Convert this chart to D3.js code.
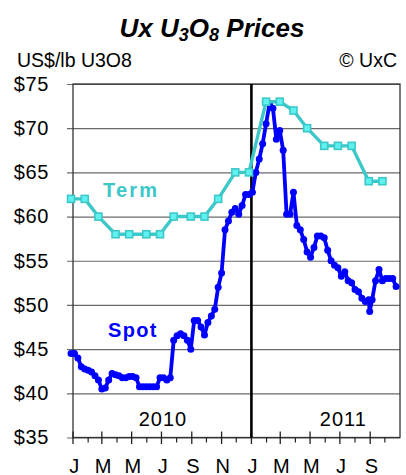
<!DOCTYPE html>
<html>
<head>
<meta charset="utf-8">
<title>Ux U3O8 Prices</title>
<script src="https://cdn.jsdelivr.net/npm/d3@7"></script>
<style>
  body { margin: 0; background: #fff; }
  svg { display: block; font-family: "Liberation Sans", Arial, sans-serif; }
</style>
</head>
<body>
<script>
// Weekly spot price (US$/lb U3O8)
var spotDates = ["2009-12-28","2010-01-04","2010-01-11","2010-01-18","2010-01-25","2010-02-01","2010-02-08","2010-02-15","2010-02-22",
  "2010-03-01","2010-03-08","2010-03-15","2010-03-22","2010-03-29","2010-04-05","2010-04-12","2010-04-19","2010-04-26",
  "2010-05-03","2010-05-10","2010-05-17","2010-05-24","2010-05-31","2010-06-07","2010-06-14","2010-06-21","2010-06-28",
  "2010-07-05","2010-07-12","2010-07-19","2010-07-26","2010-08-02","2010-08-09","2010-08-16","2010-08-23","2010-08-30",
  "2010-09-06","2010-09-13","2010-09-20","2010-09-27","2010-10-04","2010-10-11","2010-10-18","2010-10-25",
  "2010-11-01","2010-11-08","2010-11-15","2010-11-22","2010-11-29","2010-12-06","2010-12-13","2010-12-20","2010-12-27",
  "2011-01-03","2011-01-10","2011-01-17","2011-01-24","2011-01-31","2011-02-07","2011-02-14","2011-02-21","2011-02-28",
  "2011-03-07","2011-03-14","2011-03-21","2011-03-28","2011-04-04","2011-04-11","2011-04-18","2011-04-25",
  "2011-05-02","2011-05-09","2011-05-16","2011-05-23","2011-05-30","2011-06-06","2011-06-13","2011-06-20","2011-06-27",
  "2011-07-04","2011-07-11","2011-07-18","2011-07-25","2011-08-01","2011-08-08","2011-08-15","2011-08-22","2011-08-29","2011-08-31",
  "2011-09-05","2011-09-12","2011-09-19","2011-09-26","2011-10-03","2011-10-10","2011-10-17","2011-10-24"];
var spotValues = [44.5, 44.5, 44.0, 43.0, 42.75, 42.6, 42.4, 42.0, 41.5,
  40.5, 40.6, 41.5, 42.25, 42.1, 42.0, 41.75, 41.75, 41.9,
  41.9, 41.75, 40.75, 40.75, 40.75, 40.75, 40.75, 40.75, 41.75,
  41.75, 41.5, 41.75, 46.0, 46.5, 46.75, 46.5, 46.0, 45.0,
  48.25, 48.25, 47.5, 46.6, 48.0, 48.75, 49.5, 52.0,
  53.6, 58.5, 59.5, 60.5, 60.9, 60.25, 61.25, 62.5, 62.5,
  62.75, 65.0, 66.5, 68.25, 70.5, 72.75, 72.25, 68.75, 69.75,
  67.5, 60.25, 60.25, 62.75, 59.0, 58.5, 57.4, 56.0,
  55.4, 56.5, 57.8, 57.8, 57.6, 56.2, 55.0, 54.5, 54.2,
  53.25, 53.75, 52.75, 52.5, 51.75, 51.5, 50.75, 50.4, 50.6, 49.25,
  50.6, 52.75, 54.0, 52.75, 53.0, 53.0, 53.0, 52.1];

// Month-end long-term price
var termDates = ["2009-12-28","2010-01-25","2010-02-22","2010-03-29","2010-04-26","2010-05-31","2010-06-28","2010-07-26",
  "2010-08-30","2010-09-27","2010-10-25","2010-11-29","2010-12-27","2011-01-31","2011-02-28","2011-03-28",
  "2011-04-25","2011-05-30","2011-06-27","2011-07-25","2011-08-29","2011-09-26"];
var termValues = [62, 62, 60, 58, 58, 58, 58, 60, 60, 60, 62, 65, 65, 73, 73, 72, 70, 68, 68, 68, 64, 64];

var yTicks = [35, 40, 45, 50, 55, 60, 65, 70, 75];
var monthTickDates = ["2010-01-01","2010-03-01","2010-05-01","2010-07-01","2010-09-01","2010-11-01",
  "2011-01-01","2011-03-01","2011-05-01","2011-07-01","2011-09-01"];
var monthLabels = ["J", "M", "M", "J", "S", "N", "J", "M", "M", "J", "S"];
var yearLabels = ["2010", "2011"];
var yearLabelDates = ["2010-07-04", "2011-07-08"];

var w = 406, h = 475;
var plotLeft = 73, plotRight = 400, plotTop = 84, plotBottom = 437.5;
var parse = d3.timeParse("%Y-%m-%d");

var spot = spotDates.map(function(d, i){ return { date: parse(d), value: spotValues[i] }; });
var term = termDates.map(function(d, i){ return { date: parse(d), value: termValues[i] }; });

var xScale = d3.scaleTime()
    .domain([parse("2010-01-01"), parse("2011-11-01")])
    .range([plotLeft, plotRight]);
var yScale = d3.scaleLinear()
    .domain([35, 75])
    .range([plotBottom, plotTop]);

var svg = d3.select("body").append("svg")
    .attr("width", w)
    .attr("height", h);

// Title
var title = svg.append("text")
    .attr("x", 212).attr("y", 36.5)
    .attr("text-anchor", "middle")
    .attr("font-size", 26).attr("font-weight", "bold").attr("font-style", "italic")
    .attr("fill", "#000");
title.append("tspan").text("Ux U");
title.append("tspan").attr("dy", 4).attr("font-size", 18).text("3");
title.append("tspan").attr("dy", -4).text("O");
title.append("tspan").attr("dy", 4).attr("font-size", 18).text("8");
title.append("tspan").attr("dy", -4).text(" Prices");

svg.append("text")
    .attr("x", 17).attr("y", 66.5)
    .attr("font-size", 19.5)
    .text("US$/lb U3O8");
svg.append("text")
    .attr("x", 397).attr("y", 66.5)
    .attr("text-anchor", "end")
    .attr("font-size", 19.5)
    .text("© UxC");

// Gridlines + y axis labels
var yAxis = d3.axisLeft(yScale)
    .tickValues(yTicks)
    .tickSizeInner(-(plotRight - plotLeft + 6))
    .tickSizeOuter(0)
    .tickPadding(18)
    .tickFormat(function(d){ return "$" + d; });

var gy = svg.append("g")
    .attr("transform", "translate(" + (plotLeft - 6) + ",0)")
    .call(yAxis);
gy.select(".domain").remove();
gy.selectAll(".tick line").attr("stroke", "#6a6a6a").attr("stroke-width", 1.2);
gy.selectAll(".tick text")
    .attr("font-size", 20).attr("letter-spacing", 0.6)
    .attr("fill", "#000")
    .attr("font-family", "Liberation Sans, Arial, sans-serif");

// Frame
svg.append("rect")
    .attr("x", plotLeft).attr("y", plotTop)
    .attr("width", plotRight - plotLeft).attr("height", plotBottom - plotTop)
    .attr("fill", "none").attr("stroke", "#333").attr("stroke-width", 1.3);

// X axis ticks (major every 2 months crossing axis, minor monthly below)
var minorTicks = d3.timeMonth.range(parse("2010-02-01"), parse("2011-11-01"), 2);
svg.append("g").selectAll("line.minor")
    .data(minorTicks).enter().append("line")
    .attr("x1", function(d){ return xScale(d); })
    .attr("x2", function(d){ return xScale(d); })
    .attr("y1", plotBottom).attr("y2", plotBottom + 5)
    .attr("stroke", "#222").attr("stroke-width", 1.2);

var majorTicks = monthTickDates.map(parse);
svg.append("g").selectAll("line.major")
    .data(majorTicks).enter().append("line")
    .attr("x1", function(d){ return xScale(d); })
    .attr("x2", function(d){ return xScale(d); })
    .attr("y1", plotBottom - 6).attr("y2", plotBottom + 6.5)
    .attr("stroke", "#222").attr("stroke-width", 1.3);

svg.append("g").selectAll("text")
    .data(majorTicks).enter().append("text")
    .attr("x", function(d){ return xScale(d) + 1.5; })
    .attr("y", 473)
    .attr("text-anchor", "middle")
    .attr("font-size", 20).attr("letter-spacing", 0.6)
    .text(function(d, i){ return monthLabels[i]; });

svg.append("g").selectAll("text")
    .data(yearLabels).enter().append("text")
    .attr("x", function(d, i){ return xScale(parse(yearLabelDates[i])); })
    .attr("y", 425.5)
    .attr("text-anchor", "middle")
    .attr("font-size", 20).attr("letter-spacing", 1)
    .text(function(d){ return d; });

// Year divider
svg.append("line")
    .attr("x1", xScale(parse("2011-01-01"))).attr("x2", xScale(parse("2011-01-01")))
    .attr("y1", plotTop).attr("y2", plotBottom)
    .attr("stroke", "#000").attr("stroke-width", 2.6);

var line = d3.line()
    .x(function(d){ return xScale(d.date); })
    .y(function(d){ return yScale(d.value); });

// Spot
svg.append("path")
    .datum(spot)
    .attr("d", line)
    .attr("fill", "none").attr("stroke", "#0000ff").attr("stroke-width", 3.8)
    .attr("stroke-linejoin", "round");
svg.append("g").selectAll("circle")
    .data(spot).enter().append("circle")
    .attr("cx", function(d){ return xScale(d.date); })
    .attr("cy", function(d){ return yScale(d.value); })
    .attr("r", 3.5)
    .attr("fill", "#0000ff");

// Term
svg.append("path")
    .datum(term)
    .attr("d", line)
    .attr("fill", "none").attr("stroke", "#3cc8c8").attr("stroke-width", 3.4)
    .attr("stroke-linejoin", "round");
svg.append("g").selectAll("rect")
    .data(term).enter().append("rect")
    .attr("x", function(d){ return xScale(d.date) - 3.5; })
    .attr("y", function(d){ return yScale(d.value) - 3.5; })
    .attr("width", 7).attr("height", 7)
    .attr("fill", "#5ff0f0").attr("stroke", "#3cc8c8").attr("stroke-width", 1.6);

// Series labels
svg.append("text")
    .attr("x", 103).attr("y", 196.5)
    .attr("font-size", 20).attr("font-weight", "bold").attr("letter-spacing", 2.2)
    .attr("fill", "#3cc8c8")
    .text("Term");
svg.append("text")
    .attr("x", 108).attr("y", 337)
    .attr("font-size", 20).attr("font-weight", "bold").attr("letter-spacing", 1.3)
    .attr("fill", "#0000ff")
    .text("Spot");
</script>
</body>
</html>
